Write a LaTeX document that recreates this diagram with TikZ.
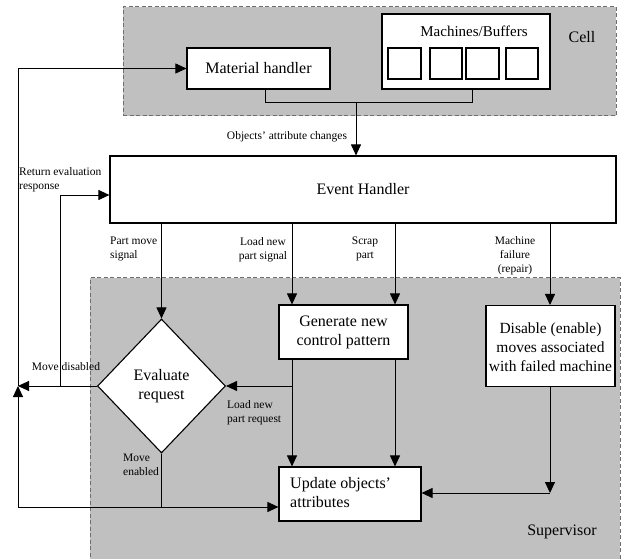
\documentclass[tikz,border=0pt]{standalone}
\usepackage{fontspec}
\setmainfont{Liberation Serif}
\usetikzlibrary{shapes.geometric,arrows.meta}
\definecolor{areagray}{RGB}{192,192,192}
\definecolor{dashgray}{RGB}{110,110,110}
\begin{document}
\begin{tikzpicture}[x=1pt,y=-1pt,
  area/.style={draw=dashgray,dashed,dash pattern=on 4pt off 2.5pt,fill=areagray,line width=1pt,minimum width=#1},
  box/.style={draw=black,fill=white,line width=1.1pt,inner sep=0pt},
  big/.style={font=\fontsize{16}{19}\selectfont},
  small/.style={font=\fontsize{11.5}{14}\selectfont,inner sep=0pt},
  line/.style={draw=black,line width=0.9pt},
  arr/.style={line,-{Triangle[length=11pt,width=10pt]}}]
\useasboundingbox (0,0) rectangle (622,559);
% areas
\node[area=493pt,minimum height=109pt] (cell) at (369.5,61.5) {};
\node[area=530pt,minimum height=290pt] (sup) at (355,423) {};
\node[big] (celllbl) at (582,37) {Cell};
\node[big] (suplbl) at (562,532) {Supervisor};
% cell contents
\node[box,big,minimum width=143pt,minimum height=41pt] (mh) at (258.5,68.5) {Material handler};
\node[box,minimum width=168pt,minimum height=75pt] (mb) at (466,51.5) {};
\node[font=\fontsize{15}{18}\selectfont] (mblbl) at (474,31) {Machines/Buffers};
\node[box,minimum width=33pt,minimum height=31pt] (m1) at (404.5,63.5) {};
\node[box,minimum width=32pt,minimum height=31pt] (m2) at (446,63.5) {};
\node[box,minimum width=33pt,minimum height=31pt] (m3) at (482.5,63.5) {};
\node[box,minimum width=32pt,minimum height=31pt] (m4) at (522,63.5) {};
% event handler
\node[box,big,minimum width=506pt,minimum height=67pt] (eh) at (363,189.5) {Event Handler};
% supervisor contents
\node[box,big,shape=diamond,aspect=0.955,minimum width=128pt,minimum height=134pt,align=center] (dia) at (161.5,386) {Evaluate\\request};
\node[box,big,minimum width=129pt,minimum height=54pt,align=center] (gen) at (343.5,332) {Generate new\\control pattern};
\node[box,font=\fontsize{15.5}{19}\selectfont,minimum width=129pt,minimum height=81pt,align=center,anchor=north] (dis) at (550.5,305) {\rule{0pt}{13pt}Disable (enable)\\moves associated\\with failed machine};
\node[box,minimum width=142pt,minimum height=54pt] (upd) at (350,494) {};
\node[big,align=left,anchor=west,inner sep=0pt] (updlbl) at (290,493) {Update objects'\\attributes};
% coordinates
\coordinate (j1) at (265,102);
\coordinate (j2) at (472,102);
\coordinate (j3) at (356,102);
\coordinate (xA) at (292,0);
\coordinate (xB) at (395,0);
\coordinate (xC) at (550,0);
\coordinate (lr) at (292,386);
\coordinate (dj) at (550,493);
\coordinate (ml) at (18,386);
\coordinate (rj) at (60,386);
\coordinate (rt) at (60,195);
\coordinate (bl) at (18,507);
\coordinate (bj) at (161.5,507);
% connectors
\draw[line] (mh.south -| j1) -- (j1) -- (j2) -- (mb.south -| j2);
\draw[arr] (j3) -- (eh.north -| j3);
\draw[arr] (eh.south -| dia.north) -- (dia.north);
\draw[arr] (eh.south -| xA) -- (gen.north -| xA);
\draw[arr] (eh.south -| xB) -- (gen.north -| xB);
\draw[arr] (eh.south -| xC) -- (dis.north -| xC);
\draw[arr] (gen.south -| xA) -- (upd.north -| xA);
\draw[arr] (gen.south -| xB) -- (upd.north -| xB);
\draw[arr] (lr) -- (dia.east);
\draw[arr] (dis.south -| dj) -- (dj);
\draw[arr] (dj) -- (upd.east |- dj);
\draw[arr] (dia.west) -- (ml);
\draw[arr] (rj) -- (rt) -- (eh.west |- rt);
\draw[line] (dia.south) -- (bj);
\draw[arr] (bl) -- (upd.west |- bl);
\draw[arr] (bl) -- (ml);
\draw[arr] (ml) |- (mh.west);
% labels
\node[small] (lobj) at (287,137) {Objects' attribute changes};
\node[small,align=left,anchor=north west] (lret) at (19,167) {Return evaluation\\response};
\node[small,align=left,anchor=north west] (lpm) at (110,237) {Part move\\signal};
\node[small,align=center,anchor=north] (lln) at (263,237) {Load new\\part signal};
\node[small,align=center,anchor=north] (lsc) at (365,237) {Scrap\\part};
\node[small,align=center,anchor=north] (lmf) at (515,236) {Machine\\failure\\(repair)};
\node[small] (lmd) at (66,367) {Move disabled};
\node[small,align=left,anchor=north west] (llr) at (227,400) {Load new\\part request};
\node[small,align=left,anchor=north west] (lme) at (123,454) {Move\\enabled};
\end{tikzpicture}
\end{document}
